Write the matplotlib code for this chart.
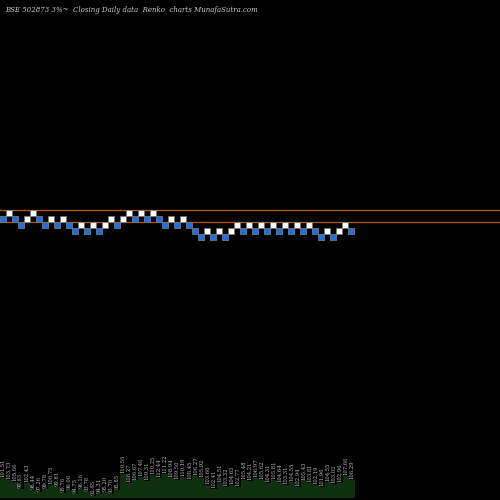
import matplotlib
matplotlib.use("Agg")
import matplotlib.pyplot as plt
from matplotlib.patches import Rectangle

BG = "#000000"
UP = "#ffffff"
DOWN = "#1f6fe0"
EDGE = "#777777"
ORANGE = "#b85a00"
VOLGREEN = "#0e300f"

# renko brick levels (0 = lowest brick) and direction
levels = [3, 4, 3, 2, 3, 4, 3, 2, 3, 2, 3, 2, 1, 2, 1, 2, 1, 2, 3, 2,
          3, 4, 3, 4, 3, 4, 3, 2, 3, 2, 3, 2, 1, 0, 1, 0, 1, 0, 1, 2,
          1, 2, 1, 2, 1, 2, 1, 2, 1, 2, 1, 2, 1, 0, 1, 0, 1, 2, 1]
up = [0, 1, 0, 0, 1, 1, 0, 0, 1, 0, 1, 0, 0, 1, 0, 1, 0, 1, 1, 0,
      1, 1, 0, 1, 0, 1, 0, 0, 1, 0, 1, 0, 0, 0, 1, 0, 1, 0, 1, 1,
      0, 1, 0, 1, 0, 1, 0, 1, 0, 1, 0, 1, 0, 0, 1, 0, 1, 1, 0]
hlines = [4.5, 2.5]

volumes = [22, 20, 17, 10, 16, 8, 6, 10, 14, 12, 5, 8, 4, 9, 6, 2, 4, 6, 4, 8,
           26, 16, 19, 23, 18, 25, 22, 26, 22, 20, 23, 20, 24, 22, 14, 10, 16, 12, 14, 12,
           20, 18, 22, 20, 16, 20, 16, 14, 17, 12, 19, 16, 14, 12, 17, 15, 16, 24, 20]
vol_labels = ["101.51", "103.73", "105.66", "99.63", "102.43", "98.44", "97.26", "99.78",
              "100.75", "99.81", "95.76", "96.06", "94.75", "96.16", "93.78", "92.65",
              "94.31", "95.20", "93.70", "95.85", "110.55", "108.27", "106.67", "107.46",
              "109.31", "110.25", "112.44", "111.22", "108.94", "109.50", "110.19", "108.45",
              "106.27", "105.92", "103.66", "102.41", "104.51", "103.32", "104.65", "102.77",
              "105.48", "104.21", "106.97", "105.62", "104.31", "105.81", "104.64", "103.31",
              "104.55", "102.94", "105.43", "103.81", "102.19", "101.96", "104.55", "103.02",
              "102.96", "107.66", "106.29"]

fig = plt.figure(figsize=(5, 5), dpi=100)
fig.patch.set_facecolor(BG)

ax = fig.add_axes([0, 0, 1, 1])
ax.set_facecolor(BG)
ax.set_xlim(-0.5, 500 / 6 - 0.5)
ax.set_ylim(-43.8, 39.5)
ax.axis("off")

for y in hlines:
    ax.axhline(y, color=ORANGE, lw=0.9, zorder=1)

for i, (lv, u) in enumerate(zip(levels, up)):
    ax.add_patch(Rectangle((i - 0.5, lv - 0.5), 1, 1,
                           facecolor=UP if u else DOWN, edgecolor=EDGE,
                           lw=0.6, zorder=3))

fig.text(0.01, 0.988, "BSE 502873 3%~  Closing Daily data  Renko  charts MunafaSutra.com",
         color="#cccccc", fontsize=5, family="DejaVu Serif", style="italic",
         ha="left", va="top")

# volume strip at the bottom
vax = fig.add_axes([-0.001, 0.005, 59 * 6 / 500 + 0.013, 0.18])
vax.set_facecolor("none")
vax.set_xlim(-0.5, 59.3)
vax.set_ylim(0, 100)
vax.axis("off")
xs = list(range(len(volumes)))
vax.bar(xs, volumes, width=1.0, color=VOLGREEN, zorder=1)
for i, (v, lab) in enumerate(zip(volumes, vol_labels)):
    vax.text(i, v + 1, lab, rotation=90, fontsize=3.8, color="#bbbbbb",
             family="DejaVu Serif", ha="center", va="bottom")

fig.savefig("out.png", dpi=100, facecolor=BG)
